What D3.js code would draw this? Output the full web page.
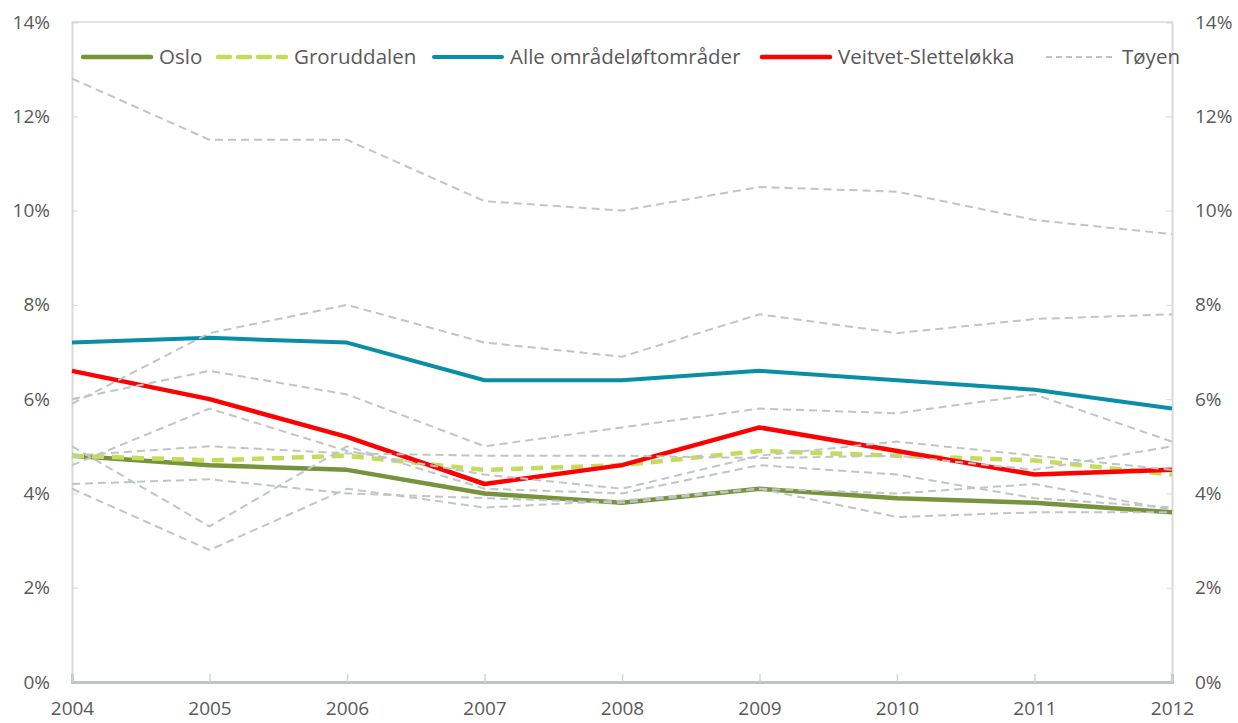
<!DOCTYPE html>
<html>
<head>
<meta charset="utf-8">
<script src="https://cdn.jsdelivr.net/npm/d3@7"></script>
<style>
  body { margin: 0; background: #fff; }
  text { font-family: "Open Sans", sans-serif; fill: #595959; }
</style>
</head>
<body>
<script>
// years and axis ticks
var years = [2004, 2005, 2006, 2007, 2008, 2009, 2010, 2011, 2012];
var yTicks = [0, 2, 4, 6, 8, 10, 12, 14];

// highlighted series (percent)
var oslo        = [4.8, 4.6, 4.5, 4.0, 3.8, 4.1, 3.9, 3.8, 3.6];
var groruddalen = [4.8, 4.7, 4.8, 4.5, 4.6, 4.9, 4.8, 4.7, 4.4];
var alleOmr     = [7.2, 7.3, 7.2, 6.4, 6.4, 6.6, 6.4, 6.2, 5.8];
var veitvet     = [6.6, 6.0, 5.2, 4.2, 4.6, 5.4, 4.9, 4.4, 4.5];

// the individual areas (grey dashed)
var toyen  = [12.8, 11.5, 11.5, 10.2, 10.0, 10.5, 10.4, 9.8, 9.5];
var omrB   = [5.9, 7.4, 8.0, 7.2, 6.9, 7.8, 7.4, 7.7, 7.8];
var omrC   = [6.0, 6.6, 6.1, 5.0, 5.4, 5.8, 5.7, 6.1, 5.1];
var omrD   = [4.6, 5.8, 4.9, 4.4, 4.1, 4.8, 5.1, 4.8, 4.5];
var omrE   = [5.0, 3.3, 5.0, 4.1, 4.0, 4.6, 4.4, 3.9, 3.7];
var omrF   = [4.8, 5.0, 4.85, 4.8, 4.8, 4.75, 4.8, 4.5, 5.0];
var omrG   = [4.2, 4.3, 4.0, 3.9, 3.8, 4.1, 4.0, 4.2, 3.65];
var omrH   = [4.1, 2.8, 4.1, 3.7, 3.85, 4.1, 3.5, 3.6, 3.6];

var width = 1238, height = 723;
var plotLeft = 72, plotRight = 1172, plotTop = 22, plotBottom = 682;

var svg = d3.select("body").append("svg")
    .attr("width", width)
    .attr("height", height);

var x = d3.scaleLinear().domain([2004, 2012]).range([plotLeft, plotRight]);
var y = d3.scaleLinear().domain([0, 14]).range([plotBottom, plotTop]);

// plot frame top line
svg.append("line")
    .attr("x1", plotLeft).attr("x2", plotRight)
    .attr("y1", plotTop).attr("y2", plotTop)
    .attr("stroke", "#d9d9d9").attr("stroke-width", 1.5);

// left axis
var yLeft = svg.append("g")
    .attr("transform", "translate(" + plotLeft + ",0)")
    .call(d3.axisLeft(y).tickValues(yTicks).tickSize(-6).tickPadding(22)
        .tickFormat(function(d) { return d + "%"; }));

// right axis
var yRight = svg.append("g")
    .attr("transform", "translate(" + plotRight + ",0)")
    .call(d3.axisRight(y).tickValues(yTicks).tickSize(-6).tickPadding(23)
        .tickFormat(function(d) { return d + "%"; }));

[yLeft, yRight].forEach(function(g) {
    g.select(".domain").attr("stroke", "#d9d9d9").attr("stroke-width", 2);
    g.selectAll(".tick line").attr("stroke", "#d9d9d9");
    g.selectAll(".tick text")
        .attr("font-size", 19)
        .style("font-family", "'Open Sans', sans-serif");
});

// bottom axis
var xAxis = svg.append("g")
    .attr("transform", "translate(0," + plotBottom + ")")
    .call(d3.axisBottom(x).tickValues(years).tickSize(-8).tickPadding(20)
        .tickFormat(d3.format("d")));
xAxis.select(".domain").attr("stroke", "#bfc5c5").attr("stroke-width", 3);
xAxis.selectAll(".tick line").attr("stroke", "#d0d4d4").attr("stroke-width", 1.5);
xAxis.selectAll(".tick text")
    .attr("font-size", 19)
    .style("font-family", "'Open Sans', sans-serif");

var line = d3.line()
    .x(function(d, i) { return x(years[i]); })
    .y(function(d) { return y(d); });

var main = [
    {name: "Oslo", values: oslo, color: "#77933c", width: 4.5, dash: null},
    {name: "Groruddalen", values: groruddalen, color: "#c4dc5c", width: 4.5, dash: "12,8"},
    {name: "Alle områdeløftområder", values: alleOmr, color: "#0a8ea6", width: 4, dash: null},
    {name: "Veitvet-Sletteløkka", values: veitvet, color: "#ff0000", width: 4.5, dash: null}
];
var grey = [toyen, omrB, omrC, omrD, omrE, omrF, omrG, omrH];

main.forEach(function(s) {
    svg.append("path")
        .datum(s.values)
        .attr("d", line)
        .attr("fill", "none")
        .attr("stroke", s.color)
        .attr("stroke-width", s.width)
        .attr("stroke-dasharray", s.dash)
        .attr("stroke-linejoin", "round");
});

// grey area lines are on top
svg.selectAll(".grey")
    .data(grey)
    .enter()
    .append("path")
    .attr("class", "grey")
    .attr("d", line)
    .attr("fill", "none")
    .attr("stroke", "#c0c5c5")
    .attr("stroke-width", 2)
    .attr("stroke-dasharray", "8,5");

// legend
var legendItems = main.concat([{name: "Tøyen", color: "#c0c5c5", width: 2, dash: "6,4"}]);
var legendX = [83, 218, 434, 762, 1046];
var legendY = 57;

var leg = svg.selectAll(".legend")
    .data(legendItems)
    .enter()
    .append("g")
    .attr("class", "legend")
    .attr("transform", function(d, i) { return "translate(" + legendX[i] + "," + legendY + ")"; });

leg.append("line")
    .attr("x1", 0).attr("x2", 68)
    .attr("stroke", function(d) { return d.color; })
    .attr("stroke-width", function(d) { return d.width; })
    .attr("stroke-dasharray", function(d) { return d.dash; })
    .attr("stroke-linecap", function(d) { return d.name == "Tøyen" ? "butt" : "round"; });

leg.append("text")
    .attr("x", 76)
    .attr("dy", "0.35em")
    .attr("font-size", 20.5)
    .text(function(d) { return d.name; });
</script>
</body>
</html>
